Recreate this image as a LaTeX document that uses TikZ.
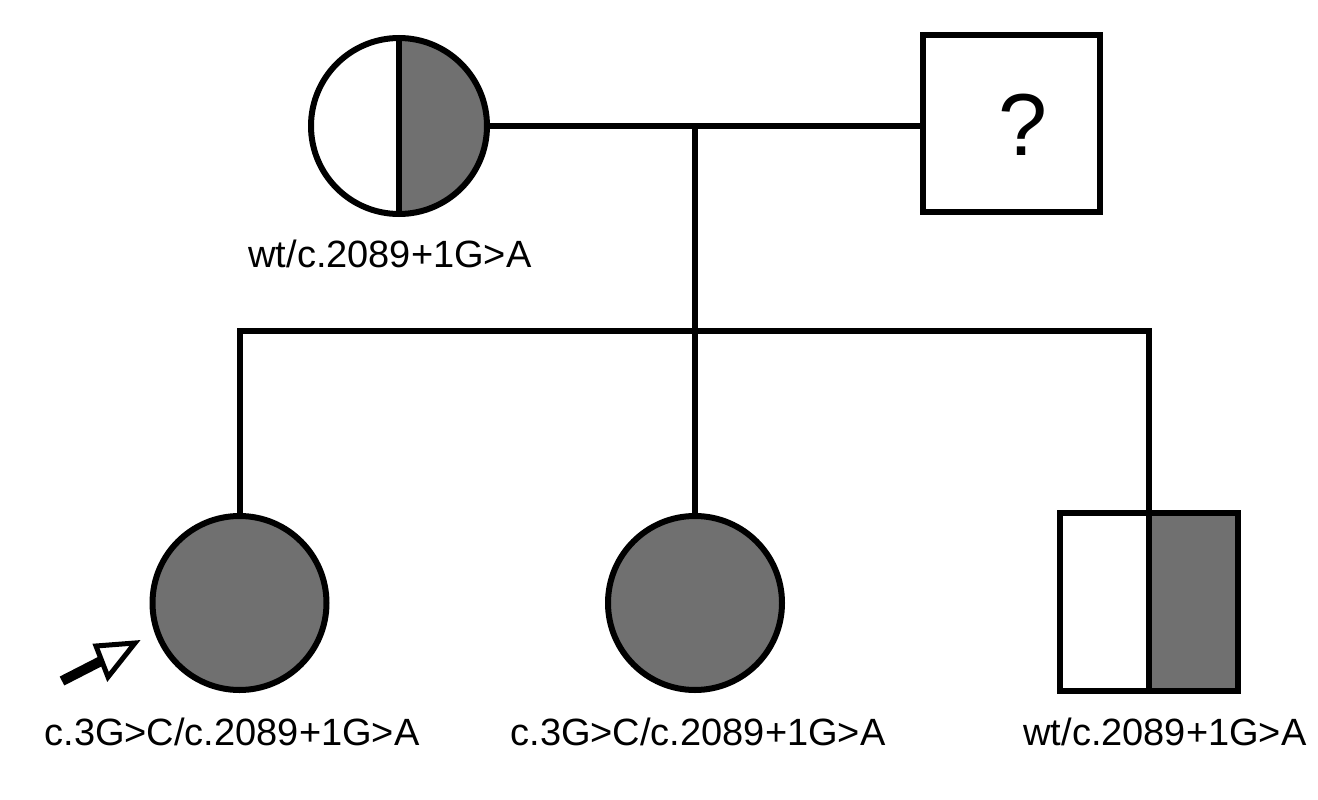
\documentclass[tikz,border=0pt]{standalone}
\usepackage{fontspec}
\setmainfont{Liberation Sans}
\definecolor{pedgray}{RGB}{112,112,112}
\tikzset{
  ped/.style={draw=black, line width=6pt, inner sep=0pt, outer sep=0pt},
  female/.style={ped, circle, minimum size=#1},
  male/.style={ped, rectangle, minimum size=#1},
  halfright/.style={path picture={\fill[pedgray] (path picture bounding box.north) rectangle (path picture bounding box.south east);}},
  line/.style={line width=6pt, line join=miter},
  gtxt/.style={anchor=base, inner sep=0pt, font=\fontsize{38}{40}\selectfont},
}
\begin{document}
\begin{tikzpicture}[x=1pt, y=-1pt]
\useasboundingbox (0,0) rectangle (1318,800);
% parents
\node[female=176pt, halfright] (M) at (399,126) {};
\draw[line] (M.north) -- (M.south);
\node[male=177pt] (F) at (1011.5,123.5) {};
\node[inner sep=0pt, font=\fontsize{88}{88}\selectfont] (q) at (1023,125) {?};
% children
\node[female=174pt, fill=pedgray] (C1) at (239.5,603) {};
\node[female=174pt, fill=pedgray] (C2) at (695,603) {};
\node[male=178pt, halfright] (S) at (1149,601.5) {};
\draw[line] (S.north) -- (S.south);
% connectors
\coordinate (mate) at (695,125);
\coordinate (sib) at (695,331);
\draw[line] (M.east) -- (M.east -| F.west);
\draw[line] (mate) -- (sib);
\draw[line] (C1.north) |- (sib) -| (S.north);
\draw[line] (sib) -- (C2.north);
% proband arrow
\coordinate (atail) at (62,681);
\coordinate (abase) at (103,660);
\draw[line width=10pt] (atail) -- (abase);
\draw[line width=5pt, fill=white, line join=miter] (135,643) -- (96,646) -- (108,677) -- cycle;
% labels
\node[gtxt] (lM) at (390,267) {wt/c.2089+1G>A};
\node[gtxt] (l1) at (232,745) {c.3G>C/c.2089+1G>A};
\node[gtxt] (l2) at (698,745) {c.3G>C/c.2089+1G>A};
\node[gtxt] (l3) at (1165,745) {wt/c.2089+1G>A};
\end{tikzpicture}
\end{document}
